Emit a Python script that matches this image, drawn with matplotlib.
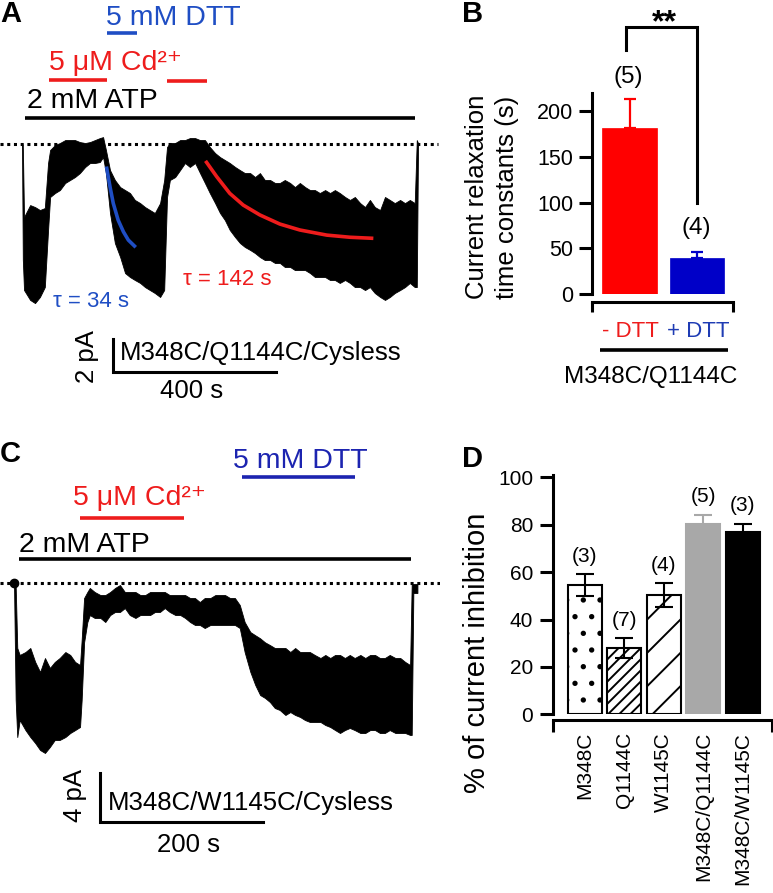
import matplotlib
matplotlib.use("Agg")
import matplotlib.pyplot as plt

plt.rcParams['font.family'] = ['Liberation Sans', 'DejaVu Sans']
plt.rcParams['hatch.linewidth'] = 1.4
plt.rcParams['hatch.color'] = 'black'

# ---- panel A: trace envelope (s, pA) ----
A_t = [0, 2, 5, 20, 32, 44, 56, 64, 69, 81, 93, 106, 118, 130, 142, 155, 167, 179,
       191, 199, 206, 216, 228, 241, 253, 265, 277, 290, 302, 314, 326, 339, 349, 356,
       363, 376, 388, 400, 412, 425, 437, 449, 461, 474, 486, 498, 510, 523, 535, 547,
       560, 572, 584, 596, 609, 621, 633, 645, 658, 670, 682, 695, 707, 719, 731, 744,
       756, 768, 780, 793, 805, 817, 830, 842, 854, 866, 879, 891, 903, 915, 928, 940,
       952, 964, 969, 972]
A_upper = [0.06, -0.1, -4.42, -3.70, -3.82, -4.00, -3.88, -1.15, -0.36, -0.06, 0.06, 0.24,
           0.24, 0.24, 0.12, 0.06, 0.12, 0.24, 0.36, 0.42, -0.36, -1.58, -2.18, -2.61,
           -2.79, -2.97, -3.39, -3.58, -3.82, -4.00, -4.18, -3.58, -2.18, -0.18, 0.06, 0.06,
           0.24, 0.24, 0.36, 0.36, 0.24, 0.24, -0.18, -0.55, -0.79, -0.97, -1.15, -1.39,
           -1.58, -1.76, -1.76, -2.00, -1.76, -2.18, -2.18, -2.36, -2.36, -2.18, -2.36,
           -2.61, -2.36, -2.61, -2.79, -2.79, -2.97, -2.79, -2.97, -2.79, -2.97, -3.21,
           -3.39, -3.21, -3.58, -3.82, -3.39, -3.82, -4.00, -3.21, -3.39, -3.58, -3.39,
           -3.58, -3.39, -3.58, 0.24, 0.06]
A_lower = [-0.06, -7.0, -8.85, -9.45, -9.64, -9.27, -8.67, -5.21, -3.21, -2.97, -2.79, -2.36,
           -2.18, -2.00, -1.76, -1.39, -1.15, -1.15, -1.09, -0.79, -1.76, -4.18, -6.00,
           -6.85, -7.82, -8.06, -8.24, -8.42, -8.67, -8.85, -9.03, -9.27, -8.85, -3.21,
           -2.18, -2.00, -1.58, -1.15, -1.39, -1.15, -1.76, -2.36, -2.97, -3.58, -4.18,
           -4.61, -5.21, -5.64, -6.00, -6.24, -6.42, -6.61, -6.85, -7.03, -7.03, -7.21,
           -7.21, -7.45, -7.45, -7.64, -7.64, -7.64, -7.82, -8.06, -8.06, -8.06, -8.24,
           -8.24, -8.42, -8.24, -8.42, -8.67, -8.67, -8.85, -8.67, -9.03, -9.27, -9.45,
           -9.27, -9.03, -8.85, -8.67, -8.42, -8.67, -8.67, -0.36]
# exponential fits
fit_dtt_t = [208, 216, 224, 236, 249, 261, 276]
fit_dtt_i = [-1.47, -2.59, -3.59, -4.61, -5.32, -5.82, -6.18]
fit_cd_t = [453, 478, 510, 543, 584, 633, 682, 748, 805, 858]
fit_cd_i = [-1.11, -1.98, -2.99, -3.70, -4.30, -4.85, -5.21, -5.52, -5.65, -5.71]

# ---- panel C: trace envelope (s, pA) ----
C_t = [0, 2, 4, 7, 14, 20, 26, 32, 38, 44, 50, 56, 63, 69, 75, 81, 83, 86, 90, 93, 99,
       106, 112, 118, 124, 130, 136, 142, 149, 155, 161, 167, 173, 179, 185, 191, 198,
       204, 210, 216, 222, 228, 234, 241, 247, 253, 259, 265, 271, 277, 283, 290, 296,
       302, 308, 314, 320, 326, 333, 339, 345, 351, 357, 363, 369, 376, 382, 388, 394,
       400, 406, 412, 418, 425, 431, 437, 443, 449, 455, 461, 468, 474, 480, 486, 488,
       490, 495]
C_upper = [0.0, -0.1, -5.28, -5.85, -5.61, -5.28, -6.42, -7.24, -6.10, -6.91, -6.42, -6.10,
           -5.61, -5.85, -6.42, -6.67, -4.63, -1.20, -0.71, -0.38, -0.71, -0.96, -0.96,
           -0.71, -0.38, -0.14, -0.71, -0.71, -0.71, -0.96, -0.96, -0.71, -0.71, -0.71,
           -0.71, -0.96, -0.96, -0.96, -0.96, -1.20, -1.20, -1.53, -1.20, -1.20, -0.96,
           -0.96, -0.96, -1.20, -1.20, -1.77, -3.16, -3.98, -4.24, -4.49, -4.82, -5.04,
           -5.28, -5.28, -5.28, -5.61, -5.28, -5.61, -5.61, -5.61, -5.85, -6.10, -5.85,
           -6.10, -5.85, -5.85, -6.10, -5.85, -6.10, -5.85, -6.10, -5.85, -5.85, -6.10,
           -6.10, -5.85, -6.10, -6.10, -6.42, -6.67, -0.06, -0.06, -0.06]
C_lower = [0.0, -9.5, -12.55, -11.16, -11.98, -12.55, -13.04, -13.61, -13.85, -13.36, -12.79,
           -12.79, -12.55, -12.22, -11.98, -11.73, -9.53, -4.82, -3.16, -2.59, -2.83, -2.83,
           -3.16, -2.59, -2.34, -2.34, -2.02, -2.59, -2.83, -2.59, -2.59, -2.59, -2.34,
           -2.34, -2.02, -2.34, -2.59, -2.59, -2.83, -3.16, -3.40, -3.40, -3.65, -3.40,
           -3.40, -3.40, -3.40, -3.40, -3.40, -3.65, -5.61, -7.24, -8.30, -9.12, -9.36,
           -9.69, -10.18, -10.34, -10.75, -10.51, -10.75, -10.91, -11.16, -11.32, -11.32,
           -11.32, -11.57, -11.73, -11.98, -12.22, -11.98, -11.81, -11.98, -12.22, -12.22,
           -11.98, -11.98, -12.22, -12.22, -11.98, -12.22, -12.22, -12.22, -12.38, -12.38,
           -0.79, -0.79]

# ---- panel B ----
tau_labels = ['- DTT', '+ DTT']
tau_means = [181.5, 39.2]
tau_errs = [30.9, 7.2]
tau_n = ['(5)', '(4)']

# ---- panel D ----
inh_labels = ['M348C', 'Q1144C', 'W1145C', 'M348C/Q1144C', 'M348C/W1145C']
inh_means = [54.6, 27.8, 50.3, 80.2, 76.9]
inh_errs = [4.5, 4.2, 5.0, 4.0, 3.5]
inh_n = ['(3)', '(7)', '(4)', '(5)', '(3)']

W, H = 773, 893
def fx(px):
    return px / W
def fy(py):
    return 1 - py / H

red = '#ee1c1c'
blueA = '#1f4ec4'
blueC = '#1c24b0'
cd_label = '5 μM Cd²⁺'

fig = plt.figure(figsize=(W / 100, H / 100), dpi=100)

# ================= A =================
axA = fig.add_axes([0, fy(410), fx(440), 410 / H])
axA.set_xlim(-54, 1026)
axA.set_ylim(-16.12, 8.73)
axA.axis('off')
axA.plot([-54, 1021], [0, 0], color='k', lw=2.2, ls=(0, (1, 1.2)))
axA.fill_between(A_t, A_lower, A_upper, color='k', lw=0.6)
axA.plot(fit_dtt_t, fit_dtt_i, color=blueA, lw=2.6)
axA.plot(fit_cd_t, fit_cd_i, color=red, lw=2.6)
axA.plot([208, 282], [6.73, 6.73], color=blueA, lw=2.6, solid_capstyle='butt')
axA.plot([66, 209], [3.88, 3.88], color=red, lw=2.6, solid_capstyle='butt')
axA.plot([356, 454], [3.82, 3.82], color=red, lw=2.6, solid_capstyle='butt')
axA.plot([7, 964], [1.58, 1.58], color='k', lw=2.6, solid_capstyle='butt')
axA.text(206, 7.21, '5 mM DTT', color=blueA, fontsize=20.5, va='baseline')
axA.text(67, 4.48, cd_label, color=red, fontsize=20.5, va='baseline')
axA.text(11.5, 2.16, '2 mM ATP', color='k', fontsize=20.5, va='baseline')
axA.text(77, -9.86, 'τ = 34 s', color=blueA, fontsize=16, va='baseline')
axA.text(394, -8.55, 'τ = 142 s', color=red, fontsize=16, va='baseline')
axA.plot([222.5, 222.5, 622.5], [-11.82, -13.82, -13.82], color='k', lw=2.2,
         solid_joinstyle='miter')
axA.text(160.7, -12.88, '2 pA', rotation=90, fontsize=18.5, ha='center', va='center')
axA.text(240.5, -13.09, 'M348C/Q1144C/Cysless', fontsize=18.5, va='baseline')
axA.text(416, -15.41, '400 s', fontsize=18.5, ha='center', va='baseline')

# ================= C =================
axC = fig.add_axes([0, 0, fx(440), (H - 420) / H])
axC.set_xlim(-17.2, 522.7)
axC.set_ylim(-25.28, 13.33)
axC.axis('off')
axC.plot([-17.2, 522.7], [0, 0], color='k', lw=2.2, ls=(0, (1, 1.2)))
axC.fill_between(C_t, C_lower, C_upper, color='k', lw=0.6)
axC.plot([0], [0], 'o', color='k', ms=6)
axC.plot([280, 418], [8.70, 8.70], color=blueC, lw=2.6, solid_capstyle='butt')
axC.plot([81, 209], [5.31, 5.31], color=red, lw=2.6, solid_capstyle='butt')
axC.plot([6, 487], [1.96, 1.96], color='k', lw=2.6, solid_capstyle='butt')
axC.text(269, 9.39, '5 mM DTT', color=blueC, fontsize=20.5, va='baseline')
axC.text(72, 6.39, cd_label, color=red, fontsize=20.5, va='baseline')
axC.text(6.5, 2.58, '2 mM ATP', color='k', fontsize=20.5, va='baseline')
axC.plot([105.5, 105.5, 305.5], [-15.48, -19.48, -19.48], color='k', lw=2.2,
         solid_joinstyle='miter')
axC.text(74.8, -17.36, '4 pA', rotation=90, fontsize=18.5, ha='center', va='center')
axC.text(115.7, -18.51, 'M348C/W1145C/Cysless', fontsize=18.5, va='baseline')
axC.text(214.7, -21.91, '200 s', fontsize=18.5, ha='center', va='baseline')

# ================= B =================
axB = fig.add_axes([fx(591.7), fy(294.3), (733 - 591.7) / W, (294.3 - 93) / H])
xb = [0, 1]
bcols = ['#ff0000', '#0000c8']
axB.bar(xb, tau_means, width=0.806, color=bcols, edgecolor=bcols, lw=0.5, zorder=2)
for x, m, e, c in zip(xb, tau_means, tau_errs, bcols):
    axB.errorbar(x, m, yerr=[[0], [e]], color=c, elinewidth=1.6, capsize=4.3,
                 capthick=1.6, zorder=1)
axB.set_xlim(-0.56, 1.533)
axB.set_ylim(0, 219.3)
for s in ['top', 'right']:
    axB.spines[s].set_visible(False)
axB.spines['left'].set_linewidth(2.2)
axB.spines['bottom'].set_linewidth(2.2)
axB.spines['bottom'].set_position(('outward', 5.3))
axB.set_yticks([0, 50, 100, 150, 200])
axB.tick_params(axis='y', length=9.6, width=2.2, labelsize=15.5, pad=3.8)
axB.set_xticks([])
axB.set_xticks([-0.56, 1.533], minor=True)
axB.tick_params(axis='x', which='minor', length=7.2, width=2.2)
axB.text(0.012, -46.2, tau_labels[0], color=red, fontsize=16, ha='center', va='baseline')
axB.text(1.025, -46.2, tau_labels[1], color='#1f3cb4', fontsize=16, ha='center',
         va='baseline')
axB.plot([-0.437, 1.464], [-60.7, -60.7], color='k', lw=2.6, clip_on=False,
         solid_capstyle='butt')
axB.text(0.32, -96.6, 'M348C/Q1144C', fontsize=17.5, ha='center', va='baseline')
axB.text(-0.018, 236.2, tau_n[0], fontsize=17.5, ha='center', va='center')
axB.text(0.996, 71.9, tau_n[1], fontsize=17.5, ha='center', va='center')
axB.plot([-0.052, -0.052, 0.995, 0.995], [266.1, 291.5, 291.5, 99.1], color='k',
         lw=2.2, clip_on=False, solid_joinstyle='miter')
axB.text(0.51, 287, '**', fontsize=23, fontweight='bold', ha='center', va='baseline')
fig.text(fx(492), fy(197), 'Current relaxation\ntime constants (s)', rotation=90,
         fontsize=18.5, ha='center', va='center', linespacing=1.3)

# ================= D =================
axD = fig.add_axes([fx(553.3), fy(714.3), (771.7 - 553.3) / W, (714.3 - 475) / H])
xd = list(range(len(inh_labels)))
faces = ['white', 'white', 'white', '#a8a8a8', 'black']
edges = ['black', 'black', 'black', '#a8a8a8', 'black']
hatches = ['.', '///', '/', None, None]
ecols = ['black', 'black', 'black', '#a8a8a8', 'black']
for x, m, e, fc, ec, h, c, n in zip(xd, inh_means, inh_errs, faces, edges, hatches,
                                    ecols, inh_n):
    axD.bar(x, m, width=0.86, color=fc, edgecolor=ec, hatch=h, lw=1.5, zorder=2)
    axD.errorbar(x, m, yerr=e, color=c, elinewidth=1.5, capsize=6.5, capthick=1.5,
                 zorder=3)
    axD.text(x, m + e + 7.7, n, fontsize=15, ha='center', va='center')
axD.set_xlim(-0.80, 4.73)
axD.set_ylim(0, 101)
for s in ['top', 'right']:
    axD.spines[s].set_visible(False)
axD.spines['left'].set_linewidth(2.2)
axD.spines['bottom'].set_linewidth(2.2)
axD.spines['bottom'].set_position(('outward', 4.1))
axD.set_yticks([0, 20, 40, 60, 80, 100])
axD.tick_params(axis='y', length=9.4, width=2.2, labelsize=15, pad=5)
axD.set_xticks(xd)
axD.set_xticklabels(inh_labels, rotation=90, fontsize=15)
axD.tick_params(axis='x', which='major', length=0, pad=8.5)
axD.set_xticks([-0.80, 4.73], minor=True)
axD.tick_params(axis='x', which='minor', length=8.4, width=2.2)
fig.text(fx(476.7), fy(653), '% of current inhibition', rotation=90, fontsize=21,
         ha='center', va='center')

# panel letters
fig.text(fx(0), fy(0), 'A', fontsize=21, fontweight='bold', va='top')
fig.text(fx(462), fy(0), 'B', fontsize=21, fontweight='bold', va='top')
fig.text(fx(0), fy(440), 'C', fontsize=21, fontweight='bold', va='top')
fig.text(fx(462), fy(445), 'D', fontsize=21, fontweight='bold', va='top')

fig.savefig('out.png', dpi=100)
